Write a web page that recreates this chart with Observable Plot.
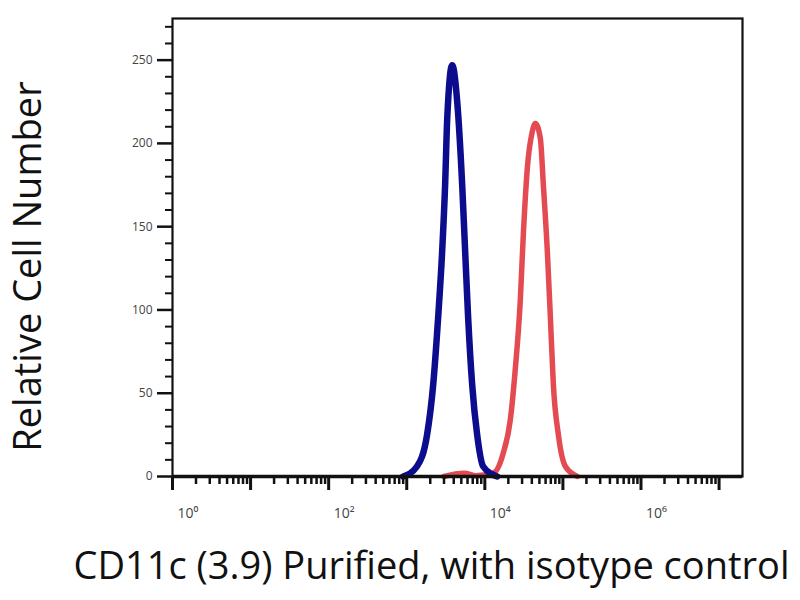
<!DOCTYPE html>
<html>
<head>
<meta charset="utf-8">
<script src="https://cdn.jsdelivr.net/npm/d3@7"></script>
<script src="https://cdn.jsdelivr.net/npm/@observablehq/plot@0.6"></script>
<style>
  html, body { margin: 0; padding: 0; background: #fff; }
  #chart svg { display: block; }
</style>
</head>
<body>
<div id="chart"></div>
<script>
// CD11c (blue) histogram: fluorescence intensity vs relative cell number
const blueX = [900, 1350, 1820, 2180, 2520, 2840, 3100, 3300, 3820, 4430, 5130, 5600, 6120, 6890, 7980, 9530, 14400];
const blueY = [0, 6, 25, 55, 95, 135, 175, 215, 247, 225, 175, 135, 95, 55, 25, 6, 0];
// Isotype-control (red) histogram
const redX = [3000, 4200, 5500, 7500, 12800, 17200, 21200, 24500, 28400, 31100, 35000, 40500, 44400, 51400, 56200, 63200, 69200, 75500, 87500, 107700, 153500];
const redY = [0, 1.5, 2, 0.5, 2, 14, 34, 64, 105, 145, 185, 207, 212, 203, 175, 135, 95, 55, 25, 6, 0];

const xMajor = [1, 10, 100, 1e3, 1e4, 1e5, 1e6, 1e7];
const xMinor = xMajor.slice(0, 7).flatMap(d => [2, 3, 4, 5, 6, 7, 8, 9].map(k => k * d));
const xLabels = [1, 100, 1e4, 1e6];
const xLabelText = ["10⁰", "10²", "10⁴", "10⁶"];
const yMajor = [0, 50, 100, 150, 200, 250];
const yMinor = [10, 20, 30, 40, 60, 70, 80, 90, 110, 120, 130, 140, 160, 170, 180, 190, 210, 220, 230, 240, 260, 270];

const yTitle = "Relative Cell Number";
const xTitle = "CD11c (3.9) Purified, with isotype control";

const blue = blueX.map((x, i) => ({x, y: blueY[i]}));
const red = redX.map((x, i) => ({x, y: redY[i]}));
const noLabel = () => "";
const xLabelFor = d => {
  const k = xLabels.findIndex(v => Math.abs(Math.log10(v) - Math.log10(d)) < 1e-6);
  return k >= 0 ? xLabelText[k] : "";
};

const chart = Plot.plot({
  width: 800,
  height: 600,
  marginLeft: 172,
  marginRight: 58,
  marginTop: 18,
  marginBottom: 124,
  style: {fontFamily: "Open Sans, sans-serif", background: "#fff"},
  x: {type: "log", domain: [1, Math.pow(10, 7.3)]},
  y: {domain: [0, 275]},
  marks: [
    Plot.line(red, {x: "x", y: "y", stroke: "#e0363f", strokeWidth: 5.5, strokeOpacity: 0.9, curve: "monotone-x"}),
    Plot.line(blue, {x: "x", y: "y", stroke: "#0c0c8e", strokeWidth: 6.5, curve: "monotone-x"}),
    Plot.frame({stroke: "#111", strokeWidth: 2.2}),
    Plot.ruleY([0], {stroke: "#111", strokeWidth: 3.5}),
    Plot.axisX({ticks: xMajor, tickSize: 14, tickFormat: noLabel, strokeWidth: 3, stroke: "#111", label: null}),
    Plot.axisX({ticks: xMinor, tickSize: 8, tickFormat: noLabel, strokeWidth: 2.5, stroke: "#111", label: null}),
    Plot.axisX({ticks: xLabels, tickSize: 0, tickPadding: 32, dx: 5, tickFormat: xLabelFor, textAnchor: "start", fontSize: 14, fill: "#444", label: null}),
    Plot.axisY({ticks: yMajor, tickSize: 15, tickFormat: noLabel, strokeWidth: 2.5, stroke: "#111", label: null}),
    Plot.axisY({ticks: yMinor, tickSize: 7, tickFormat: noLabel, strokeWidth: 2, stroke: "#111", label: null}),
    Plot.axisY({ticks: yMajor, tickSize: 0, tickPadding: 20, tickFormat: d => String(d), fontSize: 12, fill: "#444", label: null}),
    Plot.text([yTitle], {frameAnchor: "left", textAnchor: "middle", lineAnchor: "middle", rotate: -90, dx: -144, dy: 19, fontSize: 38, fill: "#111"}),
    Plot.text([xTitle], {frameAnchor: "bottom", textAnchor: "middle", lineAnchor: "bottom", dx: -26, dy: 102, fontSize: 38, fill: "#111"})
  ]
});
document.getElementById("chart").appendChild(chart);
</script>
</body>
</html>
